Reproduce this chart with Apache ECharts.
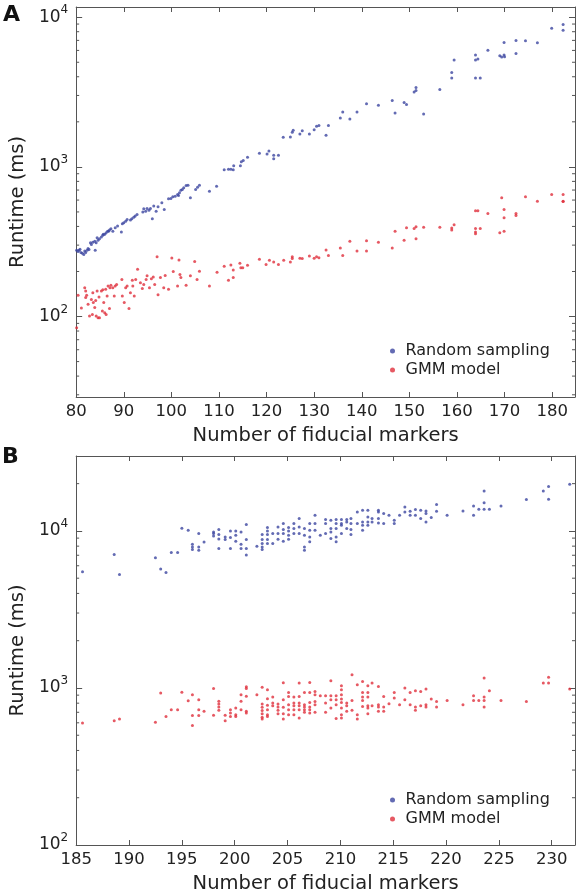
<!DOCTYPE html>
<html><head><meta charset="utf-8">
<script src="https://cdn.jsdelivr.net/npm/echarts@6/dist/echarts.min.js"></script>
<style>html,body{margin:0;padding:0;background:#fff}#c{width:579px;height:895px}</style>
</head><body><div id="c"></div>
<script>
// Panel A: runtime (ms) vs number of fiducial markers
const seriesNames = ['Random sampling', 'GMM model'];
const xLabel = 'Number of fiducial markers';
const yLabel = 'Runtime (ms)';
const panelLabels = ['A', 'B'];

const aRandom = [
[80.1,277],[80.4,272],[80.6,277],[80.8,282],[81.0,268],[81.3,265],[81.6,260],[81.8,274],[82.0,268],[82.3,277],[82.5,285],[82.7,281],
[83.0,311],[83.2,303],[83.5,314],[83.9,319],[84.0,277],[84.2,311],[84.4,336],[84.6,323],[84.9,331],[85.3,340],[85.6,349],[85.7,354],[86.0,354],
[86.3,363],[86.6,372],[86.8,372],[87.0,378],[87.3,386],[87.7,372],[88.2,392],[88.7,402],[89.5,367],[89.7,417],[90.0,423],[90.4,434],
[90.7,445],[91.4,441],[91.7,450],[92.1,461],[92.4,469],[92.8,481],[94.0,499],[94.2,525],[94.6,506],[94.9,528],[95.3,514],[95.6,528],
[96.0,451],[96.3,547],[96.8,506],[97.2,541],[98.0,575],[98.5,520],[99.4,612],[99.9,614],[100.3,631],[100.8,637],[101.3,654],[101.7,671],
[102.0,699],[101.5,644],[102.3,706],[102.6,724],[103.1,750],[103.5,753],[104.0,621],[105.1,706],[105.5,731],[105.9,753],[108.0,687],
[109.5,743],[111.1,955],[112.0,964],[112.5,964],[113.0,955],[113.1,1016],[114.5,1016],[114.7,1080],[115.1,1101],[116.0,1158],[118.5,1232],
[120.1,1221],[120.5,1279],[121.5,1194],[121.5,1135],[122.5,1194],[123.5,1575],[125.0,1585],[125.4,1701],[125.6,1755],[127.0,1660],
[127.5,1745],[129.0,1660],[130.0,1773],[130.5,1866],[131.0,1893],[132.5,1625],[133.0,1888],[135.5,2122],[136.0,2328],[137.5,2090],
[139.0,2328],[141.0,2642],[143.5,2577],[146.4,2780],[147.0,2291],[148.9,2697],[149.4,2613],[151.0,3162],[151.4,3243],[151.4,3396],
[153.0,2256],[156.4,3291],[158.9,4276],[158.9,3918],[159.4,5169],[163.9,5583],[163.9,5169],[164.4,5248],[163.9,3918],[164.9,3918],
[166.5,6026],[169.0,5521],[169.4,5411],[169.9,5583],[170.0,5450],[169.9,6772],[172.4,6982],[172.4,5717],[174.4,6950],[176.9,6745],
[179.9,8450],[182.3,8933],[182.3,8185]
];
const aGMM = [
[80.1,84],[80.4,139],[81.1,114],[81.8,156],[82.0,148],[82.0,134],[82.2,139],[82.5,121],[82.8,101],[83.2,130],[83.4,103],[83.5,144],
[83.6,124],[83.9,115],[84.1,128],[84.2,101],[84.4,148],[84.6,98],[84.8,135],[84.9,98],[85.3,148],[85.5,109],[85.6,151],[85.8,124],
[86.0,106],[86.2,152],[86.3,103],[86.5,137],[86.7,160],[87.0,113],[87.1,156],[87.3,162],[87.7,156],[88.0,137],[88.2,160],[88.5,164],
[89.6,177],[89.7,137],[90.1,124],[90.4,156],[90.7,160],[91.1,113],[91.4,144],[91.8,175],[91.9,160],[92.2,137],[92.5,177],[92.9,207],
[93.5,168],[93.9,154],[94.2,164],[94.7,177],[94.9,187],[95.4,156],[95.8,179],[96.2,184],[96.5,164],[97.0,251],[97.2,140],[97.7,182],
[98.4,156],[98.7,188],[99.4,152],[100.1,246],[100.4,200],[101.3,160],[101.6,239],[101.8,191],[102.0,182],[103.1,162],[104.0,187],
[104.9,233],[105.4,177],[105.9,201],[108.0,160],[109.6,198],[111.1,217],[112.0,175],[112.5,221],[113.0,205],[113.0,182],[114.4,227],
[114.6,212],[115.0,212],[116.0,220],[118.5,241],[119.9,223],[120.6,238],[121.5,231],[122.5,223],[123.6,238],[125.0,231],[125.4,244],
[125.4,251],[127.0,245],[127.5,244],[129.0,254],[130.0,245],[130.5,251],[131.0,247],[132.5,278],[133.0,256],[135.5,287],[136.0,256],
[137.5,318],[139.0,274],[141.0,321],[141.0,274],[143.5,314],[146.4,287],[147.0,372],[148.9,324],[149.4,392],[151.0,388],[151.4,398],
[151.4,331],[153.0,395],[156.4,395],[158.9,390],[158.9,378],[159.4,410],[163.9,509],[164.4,509],[163.9,388],[163.9,367],[163.9,357],
[164.9,388],[166.5,488],[169.0,363],[169.9,372],[169.9,519],[169.9,457],[172.4,488],[172.4,473],[176.9,590],[182.3,590],[169.4,621],
[174.4,631],[179.9,653],[182.3,653],[182.3,587]
];
const bRandom = [
[185.6,5495],[188.6,7080],[189.1,5284],[192.5,6745],[193.0,5718],[193.5,5445],[194.0,7295],[194.6,7295],[195.0,10400],[195.6,10090],
[196.0,8220],[196.0,7910],[196.0,7620],[196.6,9640],[196.6,7910],[196.6,7540],[197.1,8510],[198.0,9860],[198.0,9620],[198.0,9300],
[198.5,10210],[198.5,9480],[198.5,8890],[198.5,7730],[199.1,9160],[199.1,8810],[199.6,10000],[199.6,9080],[199.6,7730],[200.1,10000],
[200.1,9390],[200.1,8600],[200.6,9860],[200.6,8220],[200.6,7730],[201.1,10990],[201.1,8810],[201.1,7730],[201.1,7020],[202.1,8000],
[202.6,9480],[202.6,8810],[202.6,8310],[202.6,7910],[202.6,7620],[203.1,10500],[203.1,10000],[203.1,9480],[203.1,8810],[203.1,8310],
[203.6,9620],[203.6,8310],[204.1,10590],[204.1,9620],[204.1,8850],[204.6,11130],[204.6,10210],[204.6,9620],[204.6,8600],[205.1,10500],
[205.1,10000],[205.1,9390],[205.1,8850],
[205.6,11130],[205.6,10350],[205.6,9620],[206.1,11990],[206.1,10590],[206.1,9620],[206.6,10350],[206.6,9390],[206.6,7910],[206.6,7540],
[207.1,11130],[207.1,10090],[207.1,9160],[207.1,8520],[207.6,12590],[207.6,11130],[207.6,10090],[208.1,9390],[208.6,11810],[208.6,11130],
[208.6,9620],[209.1,11700],[209.1,10350],[209.1,9860],[209.1,8950],[209.6,11810],[209.6,11130],[209.6,10350],[209.6,9160],[209.6,8520],
[210.1,11810],[210.1,11130],[210.1,10860],[210.1,9620],[210.6,11810],[210.6,11400],[210.6,10350],[211.0,11990],[211.0,11130],[211.0,10210],
[211.0,9480],[211.6,13210],[211.6,11130],[212.1,13520],[212.1,11400],[212.1,10860],[212.1,10090],[212.6,13520],[212.6,12280],[212.6,11400],
[212.6,10860],[213.0,11990],[213.0,11400],[213.6,13520],[213.6,13210],[213.6,11990],[213.6,11250],[214.1,12890],[214.1,11130],[214.6,12590],
[215.1,11700],[215.1,11130],[215.6,12590],[216.1,14190],[216.1,13210],[216.6,13330],[216.6,12590],[217.1,13680],[217.1,12590],[217.6,13520],
[217.6,11990],[218.1,13400],[218.1,12890],[218.1,11400],[218.6,12160],[219.1,14720],[219.1,13330],[220.1,12590],[221.6,13400],[222.6,14430],
[222.6,12590],[223.1,13730],[223.6,17950],[223.6,15140],[223.6,13730],[224.1,13730],[225.2,14430],[227.6,15850],[229.2,17950],[229.7,19200],
[229.7,15900],[231.7,19800]
];
const bGMM = [
[185.6,599],[188.6,619],[189.1,634],[192.5,604],[193.0,929],[193.5,659],[194.0,727],[194.6,727],[195.0,938],[195.6,830],[196.0,906],
[196.0,667],[196.0,576],[196.6,841],[196.6,727],[196.6,667],[197.1,710],[198.0,993],[198.0,670],[198.5,822],[198.5,791],[198.5,757],
[198.5,721],[199.1,670],[199.1,619],[199.6,727],[199.6,692],[199.6,659],[200.1,745],[200.1,676],[200.1,659],[200.6,906],[200.6,822],
[200.6,727],[201.1,1018],[201.1,993],[201.1,885],[201.1,710],[201.1,692],[202.1,906],[202.6,1009],[202.6,791],[202.6,753],[202.6,718],
[202.6,684],[202.6,652],[202.6,635],[203.1,975],[203.1,855],[203.1,775],[203.1,727],[203.1,676],[203.1,659],[203.6,875],[203.6,801],
[203.6,771],[204.1,791],[204.1,756],[204.1,720],[204.1,686],[204.6,1079],[204.6,841],[204.6,753],[204.6,686],[204.6,635],[205.1,935],
[205.1,883],[205.1,782],[205.1,727],[205.1,676],
[205.6,875],[205.6,801],[205.6,771],[205.6,727],[205.6,676],[206.1,1074],[206.1,883],[206.1,801],[206.1,771],[206.1,727],[206.1,644],
[206.6,935],[206.6,782],[206.6,756],[206.6,727],[206.6,700],[207.1,1084],[207.1,935],[207.1,809],[207.1,756],[207.1,727],[207.1,692],
[207.6,951],[207.6,906],[207.6,821],[207.6,782],[207.6,700],[208.1,893],[208.6,893],[208.6,801],[208.6,700],[209.1,1111],[209.1,893],
[209.1,841],[209.1,745],[209.6,893],[209.6,841],[209.6,782],[209.6,638],[210.1,1032],[210.1,975],[210.1,906],[210.1,851],[210.1,809],
[210.1,745],[210.1,676],[210.1,644],[210.6,801],[210.6,771],[210.6,710],[211.1,1213],[211.1,833],[211.1,720],[211.6,1047],[211.6,676],
[211.6,635],[212.1,1101],[212.1,935],[212.1,875],[212.1,833],[212.1,763],[212.6,1032],[212.6,935],[212.6,875],[212.6,771],[212.6,745],
[212.6,686],[213.0,1074],[213.0,771],[213.6,1023],[213.6,782],[213.6,756],[213.6,710],[214.1,883],[214.1,756],[214.1,710],[214.6,794],
[215.1,935],[215.1,863],[215.6,782],[216.1,998],[216.1,841],[216.6,935],[216.6,782],[217.1,961],[217.1,756],[217.1,720],[217.6,951],
[217.6,771],[218.1,984],[218.1,782],[218.1,756],[218.6,851],[219.1,821],[219.1,756],[220.1,833],[221.6,782],[222.6,893],[222.6,833],
[223.1,833],[223.6,1156],[223.6,875],[223.6,833],[223.6,756],[224.1,961],[225.2,833],[227.6,821],[229.2,1074],[229.7,1172],[229.7,1074],
[231.7,984]
];

// axis ranges and ticks
const aXRange = [80, 184.8], aXInterval = 10;
const aYRange = [29, 11700];
const bXRange = [185, 232.2], bXInterval = 5;
const bYRange = [100, 30000];
const aYMinor = [30,40,50,60,70,80,90,200,300,400,500,600,700,800,900,2000,3000,4000,5000,6000,7000,8000,9000];
const bYMinor = [200,300,400,500,600,700,800,900,2000,3000,4000,5000,6000,7000,8000,9000,20000];

const FONT = 'DejaVu Sans';
const AX = '#555';
const BLUE = '#3c46a0', RED = '#e0303c';

function powLabel(v) {
  const e = Math.log10(v), r = Math.round(e);
  if (Math.abs(e - r) > 1e-6) return '';
  return '{b|10}{s|' + r + '}';
}

const grids = [
  {left: 69, top: 7, width: 506, height: 390},
  {left: 69, top: 456, width: 506, height: 390}
];

function xAxes(gi, range, interval) {
  const base = {
    type: 'value', gridIndex: gi, min: range[0], max: range[1], interval: interval,
    splitLine: {show: false},
    axisLine: {show: true, onZero: false, lineStyle: {color: AX, width: 1}},
    axisTick: {show: true, inside: true, length: 5, lineStyle: {color: AX}}
  };
  return [
    Object.assign({}, base, {
      position: 'bottom', name: xLabel, nameLocation: 'middle', nameGap: 29,
      nameTextStyle: {fontFamily: FONT, fontSize: 19.5, color: '#222'},
      axisLabel: {show: true, margin: 6, showMaxLabel: false, fontFamily: FONT, fontSize: 16.5, color: '#222'}
    }),
    Object.assign({}, base, {position: 'top', axisLabel: {show: false}})
  ];
}
function yAxes(gi, range) {
  const base = {
    type: 'log', logBase: 10, gridIndex: gi, min: range[0], max: range[1],
    splitLine: {show: false},
    axisLine: {show: true, onZero: false, lineStyle: {color: AX, width: 1}},
    axisTick: {show: true, inside: true, length: 6, lineStyle: {color: AX}}
  };
  return [
    Object.assign({}, base, {
      position: 'left', name: yLabel, nameLocation: 'middle', nameGap: 40,
      nameTextStyle: {fontFamily: FONT, fontSize: 19.5, color: '#222'},
      axisLabel: {show: true, margin: 8, formatter: powLabel,
        rich: {
          b: {fontFamily: FONT, fontSize: 17, color: '#222'},
          s: {fontFamily: FONT, fontSize: 12, color: '#222', padding: [0, 0, 14, 0]}
        }}
    }),
    Object.assign({}, base, {position: 'right', axisLabel: {show: false}})
  ];
}

function minorSeries(xi, yi, vals, xr) {
  return {
    type: 'custom', xAxisIndex: xi, yAxisIndex: yi, silent: true, z: 1,
    data: vals.map(v => [xr[0], v]), encode: {x: 0, y: 1},
    renderItem: function (params, api) {
      const v = api.value(1);
      const l = api.coord([xr[0], v]), r = api.coord([xr[1], v]);
      return {type: 'group', children: [
        {type: 'line', shape: {x1: l[0], y1: l[1], x2: l[0] + 3, y2: l[1]}, style: {stroke: AX, lineWidth: 1}},
        {type: 'line', shape: {x1: r[0] - 3, y1: r[1], x2: r[0], y2: r[1]}, style: {stroke: AX, lineWidth: 1}}
      ]};
    }
  };
}

function scatter(name, data, xi, yi, color) {
  return {name: name, type: 'scatter', xAxisIndex: xi, yAxisIndex: yi, data: data,
    symbol: 'circle', symbolSize: 3, itemStyle: {color: color}, z: 3, animation: false};
}

const chart = echarts.init(document.getElementById('c'), null, {renderer: 'canvas'});
chart.setOption({
  backgroundColor: '#fff',
  animation: false,
  grid: grids,
  xAxis: [].concat(xAxes(0, aXRange, aXInterval), xAxes(1, bXRange, bXInterval)),
  yAxis: [].concat(yAxes(0, aYRange), yAxes(1, bYRange)),
  legend: [
    {left: 385, top: 338, orient: 'vertical', icon: 'circle', itemWidth: 16, itemHeight: 5, itemGap: 3,
     data: seriesNames, textStyle: {fontFamily: FONT, fontSize: 16, color: '#222'}},
    {left: 385, top: 787, orient: 'vertical', icon: 'circle', itemWidth: 16, itemHeight: 5, itemGap: 3,
     data: seriesNames, textStyle: {fontFamily: FONT, fontSize: 16, color: '#222'}}
  ],
  graphic: [
    {type: 'text', left: 3, top: 4, style: {text: panelLabels[0], font: 'bold 22px "DejaVu Sans"', fill: '#111'}},
    {type: 'text', left: 2, top: 446, style: {text: panelLabels[1], font: 'bold 22px "DejaVu Sans"', fill: '#111'}}
  ],
  series: [
    scatter(seriesNames[0], aRandom, 0, 0, BLUE),
    scatter(seriesNames[1], aGMM, 0, 0, RED),
    scatter(seriesNames[0], bRandom, 2, 2, BLUE),
    scatter(seriesNames[1], bGMM, 2, 2, RED),
    minorSeries(0, 0, aYMinor, aXRange),
    minorSeries(2, 2, bYMinor, bXRange)
  ]
});
</script></body></html>
